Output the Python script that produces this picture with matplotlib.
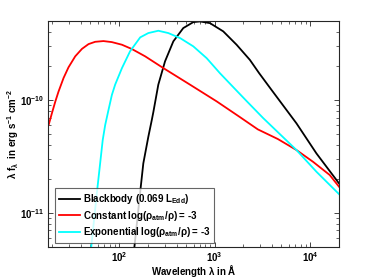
import matplotlib
matplotlib.use("Agg")
import matplotlib.pyplot as plt
from matplotlib.ticker import FuncFormatter, FixedLocator, LogLocator, NullFormatter
import numpy as np

plt.rcParams.update({
    'font.family': ['Liberation Sans', 'DejaVu Sans'],
    'font.weight': 'bold',
    'mathtext.fontset': 'custom',
    'mathtext.rm': 'Liberation Sans:bold',
    'mathtext.bf': 'Liberation Sans:bold',
    'mathtext.it': 'Liberation Sans',
    'mathtext.sf': 'Liberation Sans:bold',
})

# Blackbody (0.069 L_Edd)
bb_wl = [144.5, 166, 179, 202, 219.5, 228, 257, 302, 369, 469, 597, 701, 892,
         1228, 1695, 2334, 2919, 3934, 7177, 11610, 20000]
bb_flux = [5.03e-12, 1.53e-11, 2.75e-11, 4.73e-11, 6.65e-11, 7.83e-11, 1.37e-10,
           2.20e-10, 3.31e-10, 4.34e-10, 4.90e-10, 4.97e-10, 4.80e-10, 4.06e-10, 3.09e-10,
           2.27e-10, 1.73e-10, 1.23e-10, 6.22e-11, 3.37e-11, 1.83e-11]

# Constant log(rho_atm/rho) = -3
const_wl = [18.3, 19.8, 21.5, 23.2, 26.2, 29.5, 34.7, 40.8, 47.8, 56.1, 68.5, 83.9, 107,
            136, 187, 290, 551, 1048, 1835, 2829, 4578, 7177, 10700, 15990, 20000]
const_flux = [6.04e-11, 7.67e-11, 9.74e-11, 1.19e-10, 1.57e-10, 1.95e-10, 2.44e-10, 2.84e-10,
              3.13e-10, 3.28e-10, 3.33e-10, 3.26e-10, 3.09e-10, 2.83e-10, 2.44e-10, 1.92e-10,
              1.37e-10, 9.74e-11, 7.07e-11, 5.5e-11, 4.52e-11, 3.61e-11, 2.84e-11,
              2.17e-11, 1.71e-11]

# Exponential log(rho_atm/rho) = -3
exp_wl = [51.0, 58.9, 63.3, 67.3, 71.4, 77.3, 83.9, 90.8, 107, 130, 166, 202, 257, 327,
          434, 597, 824, 1134, 1667, 2157, 3214, 7177, 11610, 20000]
exp_flux = [5.0e-12, 1.60e-11, 2.77e-11, 4.43e-11, 6.01e-11, 8.16e-11, 1.11e-10, 1.37e-10,
            1.92e-10, 2.70e-10, 3.59e-10, 3.92e-10, 4.11e-10, 3.92e-10, 3.54e-10, 2.99e-10,
            2.35e-10, 1.73e-10, 1.23e-10, 9.8e-11, 6.93e-11, 3.61e-11, 2.32e-11, 1.47e-11]

labels = [r'Blackbody (0.069 L$_{\rm Edd}$)',
          r'Constant log($\rho_{\rm atm}$/$\rho$) = -3',
          r'Exponential log($\rho_{\rm atm}$/$\rho$) = -3']
colors = ['black', '#ff0000', '#00ffff']

xticks = [1e2, 1e3, 1e4]
yticks = [1e-11, 1e-10]
xlim = (18, 2e4)
ylim = (5e-12, 5e-10)

fig = plt.figure(figsize=(3.75, 2.78), dpi=100)
ax = fig.add_axes([0.128, 0.1115, 0.776, 0.8125])

for wl, fl, lab, c in zip([bb_wl, const_wl, exp_wl], [bb_flux, const_flux, exp_flux], labels, colors):
    ax.plot(wl, fl, color=c, lw=1.3, label=lab, solid_joinstyle='round')

ax.set_xscale('log')
ax.set_yscale('log')
ax.set_xlim(*xlim)
ax.set_ylim(*ylim)

def fmt(v, pos):
    e = int(round(np.log10(v)))
    return r'$\mathbf{10^{%d}}$' % e

ax.xaxis.set_major_locator(FixedLocator(xticks))
ax.yaxis.set_major_locator(FixedLocator(yticks))
ax.xaxis.set_minor_locator(LogLocator(base=10, subs=np.arange(2, 10), numticks=20))
ax.yaxis.set_minor_locator(LogLocator(base=10, subs=np.arange(2, 10), numticks=20))
ax.xaxis.set_major_formatter(FuncFormatter(fmt))
ax.yaxis.set_major_formatter(FuncFormatter(fmt))
ax.xaxis.set_minor_formatter(NullFormatter())
ax.yaxis.set_minor_formatter(NullFormatter())

ax.tick_params(which='both', direction='in', top=True, right=True, colors='#262626',
               labelsize=7, labelcolor='black')
ax.tick_params(which='major', length=3.5, width=0.6, pad=2.5)
ax.tick_params(which='minor', length=2, width=0.5)
for s in ax.spines.values():
    s.set_color('#262626')
    s.set_linewidth(0.8)

ax.set_xlabel(r'Wavelength $\lambda$ in Å', fontsize=7, fontweight='bold', labelpad=-1)
ax.set_ylabel(r'$\lambda$ f$_\lambda$  in erg s$^{-1}$ cm$^{-2}$', fontsize=7, fontweight='bold', labelpad=-0.5)

leg = ax.legend(loc='lower left', bbox_to_anchor=(0.024, 0.018), borderaxespad=0, fontsize=7,
                frameon=True, fancybox=False, edgecolor='#404040', handlelength=2.2,
                handletextpad=0.25, borderpad=0.4, labelspacing=0.25)
leg.get_frame().set_linewidth(0.8)

fig.savefig('out.png', dpi=100)
